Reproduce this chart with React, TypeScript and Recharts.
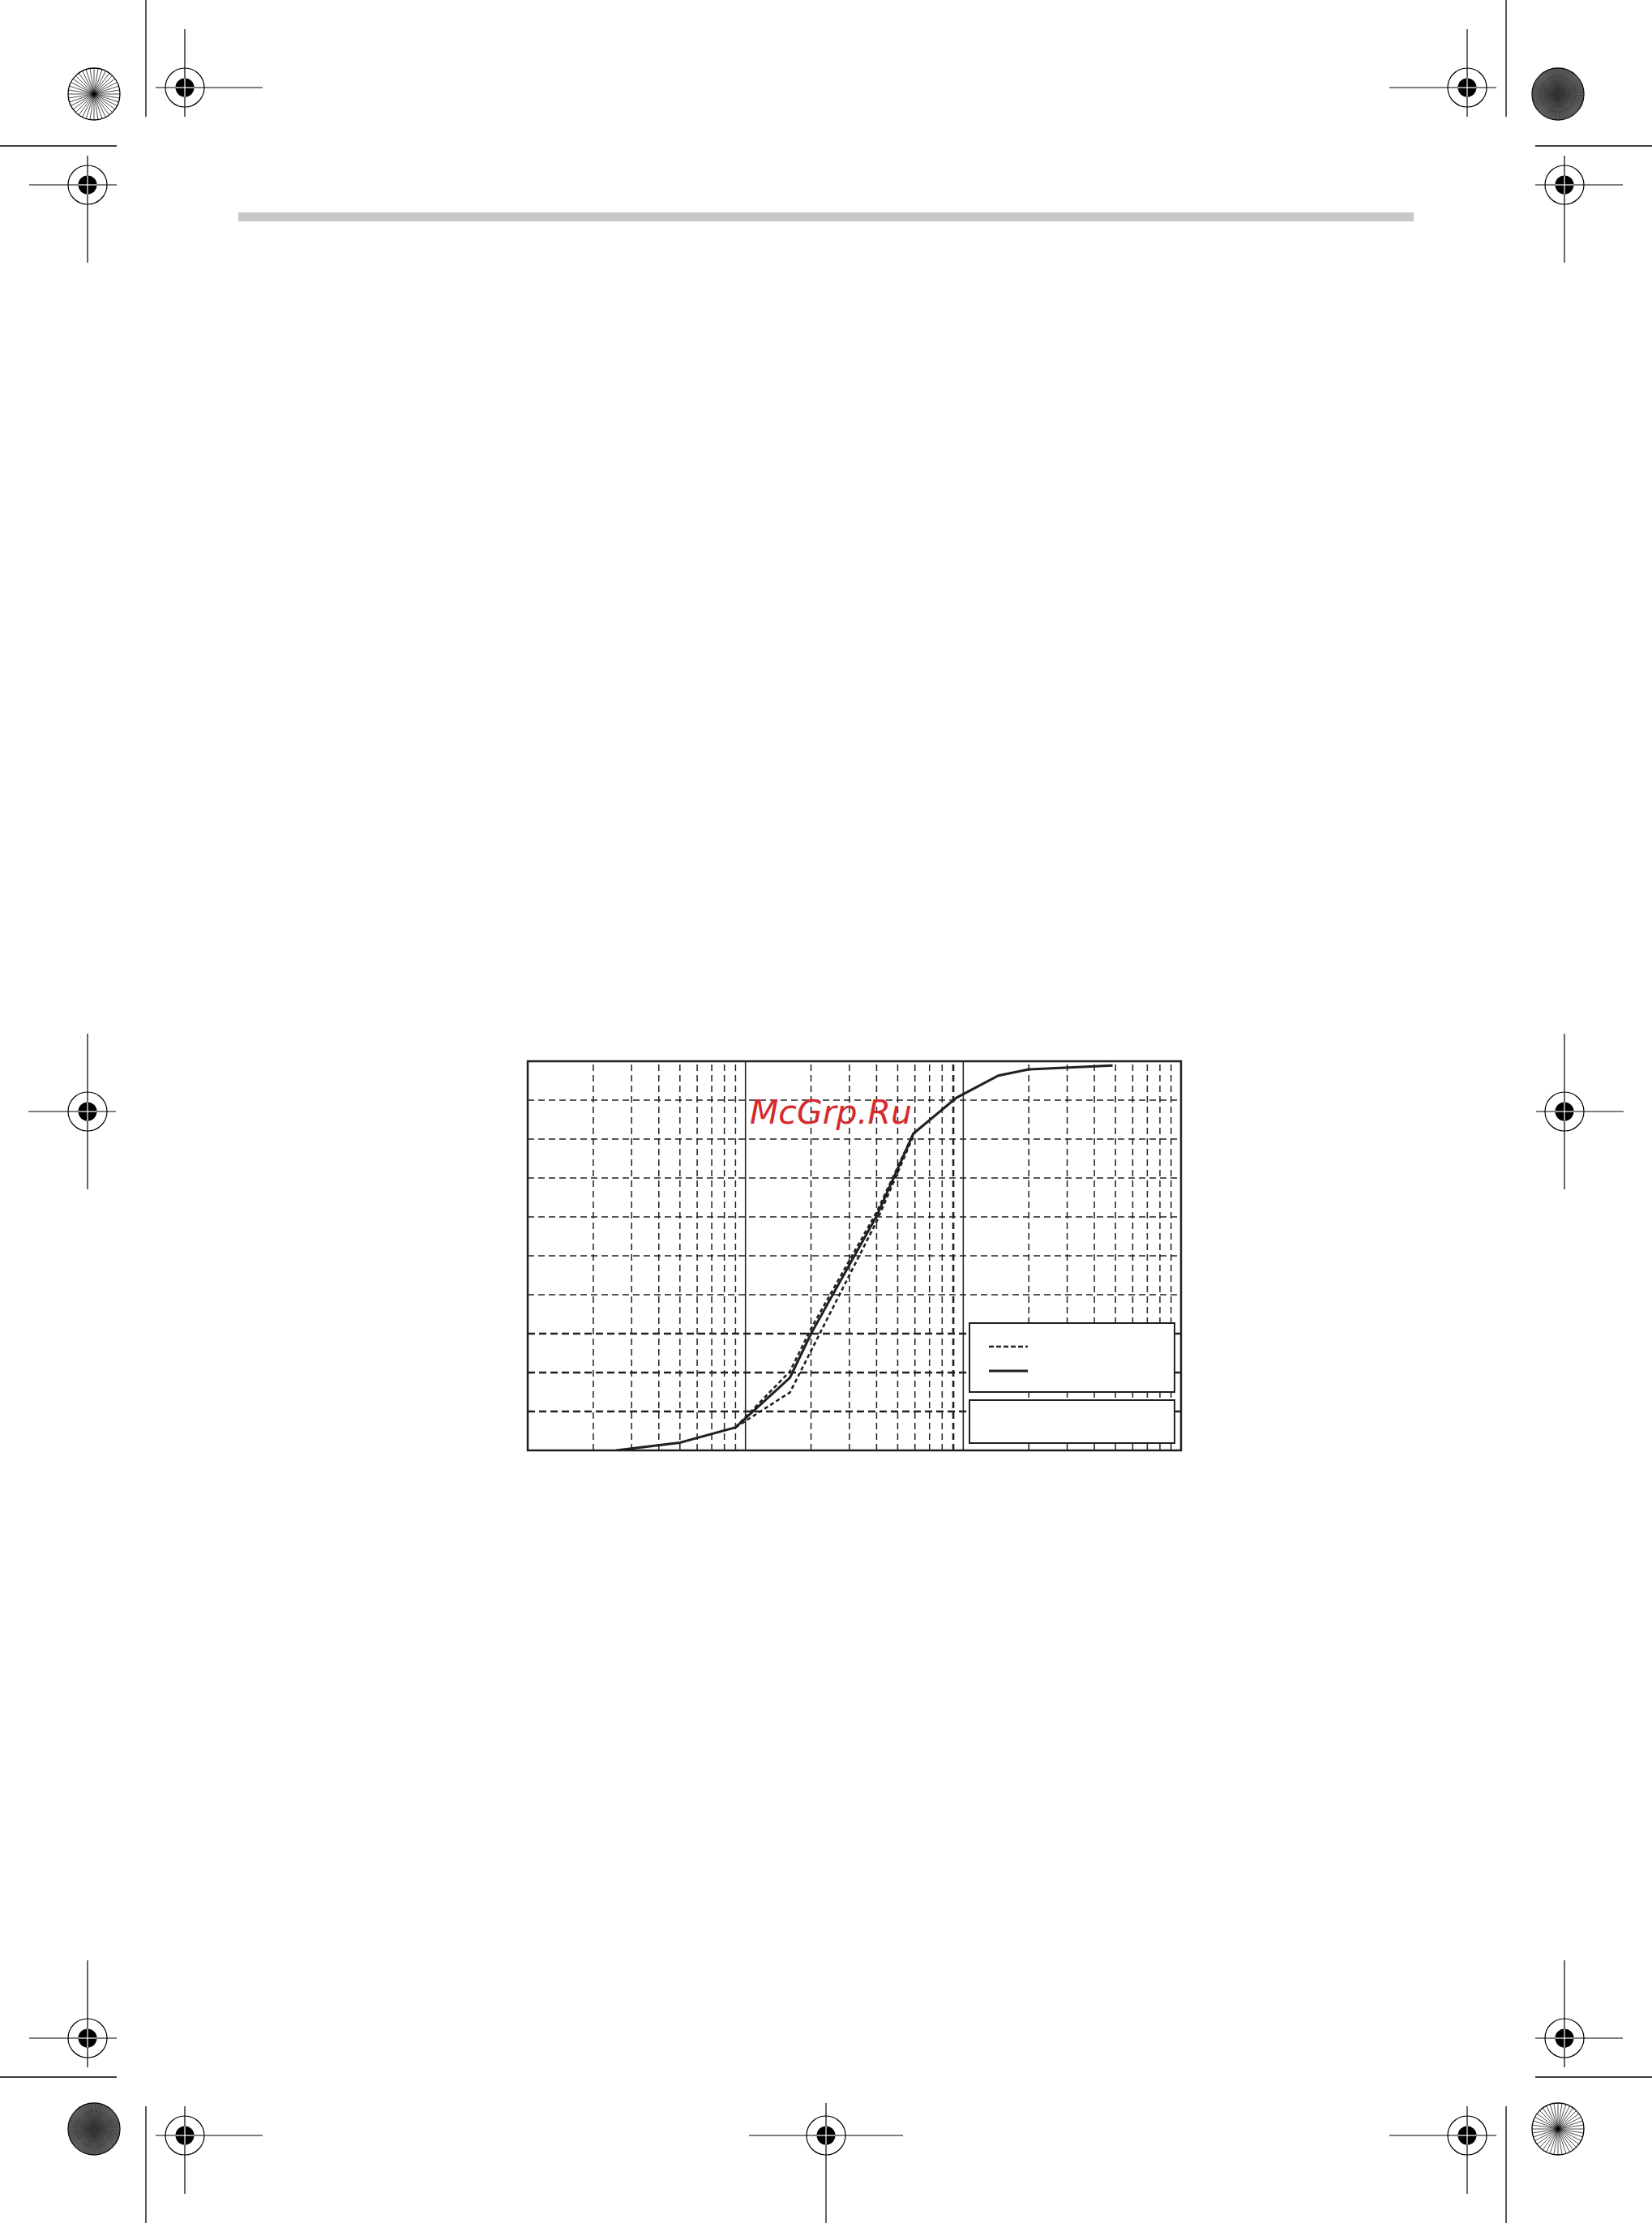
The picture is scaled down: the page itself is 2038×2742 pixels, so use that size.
import { LineChart, Line, XAxis, YAxis, ReferenceLine, ReferenceArea } from "recharts";

// cumulative curve (log x, % y)
const sizes = [2.55, 5, 9, 16, 20, 40, 59, 93, 145, 200, 485];
const passing = [0, 2.0, 5.9, 18.7, 30.0, 60.2, 81.4, 90.6, 96.3, 97.9, 98.9];

// dashed envelope
const bandSizes = [9, 16, 20, 40, 59];
const upperLimit = [5.9, 20.3, 31.3, 61.2, 81.4];
const lowerLimit = [5.9, 14.9, 25.6, 58.8, 80.8];

const minorX = [2, 3, 4, 5, 6, 7, 8, 9, 20, 30, 40, 50, 60, 70, 80, 90, 200, 300, 400, 500, 600, 700, 800, 900];
const decadeX = [10, 100];
const gridY = [10, 20, 30, 40, 50, 60, 70, 80, 90];
const heavyY = [10, 20, 30];
const heavyX = [90];

const INK = "#231f20";

const solidData = sizes.map((x, i) => ({ x, y: passing[i] }));
const upperData = bandSizes.map((x, i) => ({ x, y: upperLimit[i] }));
const lowerData = bandSizes.map((x, i) => ({ x, y: lowerLimit[i] }));

// page furniture (registration marks), not chart data
const targets = [
  [228, 108, 36, 96, 72, 36],
  [108, 228, 72, 36, 36, 96],
  [1810, 108, 96, 36, 72, 36],
  [1930, 228, 36, 72, 36, 96],
  [108, 1371, 73, 35, 96, 96],
  [1930, 1371, 35, 73, 96, 96],
  [108, 2514, 72, 36, 96, 36],
  [1930, 2514, 36, 72, 96, 36],
  [228, 2634, 36, 96, 36, 72],
  [1810, 2634, 96, 36, 36, 72],
  [1019, 2634, 95, 95, 40, 108],
];
const bursts = [
  [116, 116, false],
  [1922, 116, true],
  [116, 2626, true],
  [1922, 2626, false],
] as const;
const cropLines = [
  [180, 0, 180, 144],
  [0, 180, 144, 180],
  [1858, 0, 1858, 144],
  [1894, 180, 2038, 180],
  [180, 2598, 180, 2742],
  [0, 2562, 144, 2562],
  [1858, 2598, 1858, 2742],
  [1894, 2562, 2038, 2562],
];

function Target({ t }: { t: number[] }) {
  const [cx, cy, hl, hr, vt, vb] = t;
  return (
    <g>
      <line x1={cx - hl} y1={cy} x2={cx + hr} y2={cy} stroke="#000" strokeWidth={1.2} />
      <line x1={cx} y1={cy - vt} x2={cx} y2={cy + vb} stroke="#000" strokeWidth={1.2} />
      <circle cx={cx} cy={cy} r={24} fill="none" stroke="#000" strokeWidth={1.2} />
      <circle cx={cx} cy={cy} r={11.5} fill="#000" />
      <line x1={cx - 11.5} y1={cy} x2={cx + 11.5} y2={cy} stroke="#fff" strokeWidth={1.2} />
      <line x1={cx} y1={cy - 11.5} x2={cx} y2={cy + 11.5} stroke="#fff" strokeWidth={1.2} />
    </g>
  );
}

function Burst({ cx, cy, dark }: { cx: number; cy: number; dark: boolean }) {
  const n = dark ? 60 : 20;
  const spokes = [];
  for (let i = 0; i < n; i++) {
    const a = (Math.PI * i) / n;
    spokes.push(
      <line
        key={i}
        x1={cx - 32 * Math.cos(a)}
        y1={cy - 32 * Math.sin(a)}
        x2={cx + 32 * Math.cos(a)}
        y2={cy + 32 * Math.sin(a)}
        stroke={dark ? "#333" : "#000"}
        strokeWidth={dark ? 0.8 : 0.7}
      />
    );
  }
  return (
    <g>
      <circle cx={cx} cy={cy} r={32} fill={dark ? "#777" : "#fff"} stroke="#000" strokeWidth={1.3} />
      {spokes}
      {dark && <circle cx={cx} cy={cy} r={22} fill="none" stroke="#444" strokeWidth={1} />}
      {dark && <circle cx={cx} cy={cy} r={12} fill="none" stroke="#444" strokeWidth={1} />}
    </g>
  );
}

export default function App() {
  return (
    <div style={{ position: "absolute", left: 0, top: 0, width: 2038, height: 2742, background: "#fff", overflow: "hidden" }}>
      <div style={{ position: "absolute", left: 294, top: 262, width: 1450, height: 11, background: "#c8c8c8" }} />

      <div style={{ position: "absolute", left: 641, top: 1299 }}>
        <LineChart width={826} height={500} margin={{ top: 10, right: 10, bottom: 10, left: 10 }}>
          <XAxis dataKey="x" type="number" scale="log" domain={[1, 1000]} allowDataOverflow hide />
          <YAxis type="number" domain={[0, 100]} allowDataOverflow hide />
          {gridY.map((v) => (
            <ReferenceLine
              key={"y" + v}
              y={v}
              stroke={INK}
              strokeWidth={heavyY.includes(v) ? 2.4 : 1.5}
              strokeDasharray={heavyY.includes(v) ? "9 5" : "8 5"}
            />
          ))}
          {minorX.map((v) => (
            <ReferenceLine
              key={"x" + v}
              x={v}
              stroke={INK}
              strokeWidth={heavyX.includes(v) ? 2.6 : 1.5}
              strokeDasharray="8 5"
            />
          ))}
          {decadeX.map((v) => (
            <ReferenceLine key={"d" + v} x={v} stroke={INK} strokeWidth={1.5} />
          ))}
          <Line data={lowerData} dataKey="y" type="linear" stroke={INK} strokeWidth={2.6} strokeDasharray="5 3.5" dot={false} isAnimationActive={false} />
          <Line data={upperData} dataKey="y" type="linear" stroke={INK} strokeWidth={2.6} strokeDasharray="5 3.5" dot={false} isAnimationActive={false} />
          <Line data={solidData} dataKey="y" type="linear" stroke={INK} strokeWidth={3} dot={false} isAnimationActive={false} />
          <ReferenceArea x1={1} x2={1000} y1={0} y2={100} fill="none" fillOpacity={0} stroke={INK} strokeWidth={2.5} />
        </LineChart>
      </div>

      {/* legend boxes (labels are blank in the source) */}
      <div style={{ position: "absolute", left: 1195, top: 1631, width: 251, height: 83, border: `2px solid ${INK}`, background: "#fff" }}>
        <svg width={251} height={83} style={{ display: "block" }}>
          <line x1={23} y1={28} x2={71} y2={28} stroke={INK} strokeWidth={2.6} strokeDasharray="6 3" />
          <line x1={23} y1={58} x2={71} y2={58} stroke={INK} strokeWidth={3} />
        </svg>
      </div>
      <div style={{ position: "absolute", left: 1195, top: 1726, width: 251, height: 51, border: `2px solid ${INK}`, background: "#fff" }} />

      <svg width={2038} height={2742} style={{ position: "absolute", left: 0, top: 0, pointerEvents: "none" }}>
        {cropLines.map((l, i) => (
          <line key={i} x1={l[0]} y1={l[1]} x2={l[2]} y2={l[3]} stroke="#000" strokeWidth={1.3} />
        ))}
        {targets.map((t, i) => (
          <Target key={i} t={t} />
        ))}
        {bursts.map((b, i) => (
          <Burst key={i} cx={b[0]} cy={b[1]} dark={b[2]} />
        ))}
        <text x={925} y={1386} fill="#d42a2e" fontFamily="DejaVu Sans" fontStyle="oblique" fontSize={41}>
          McGrp.Ru
        </text>
      </svg>
    </div>
  );
}
